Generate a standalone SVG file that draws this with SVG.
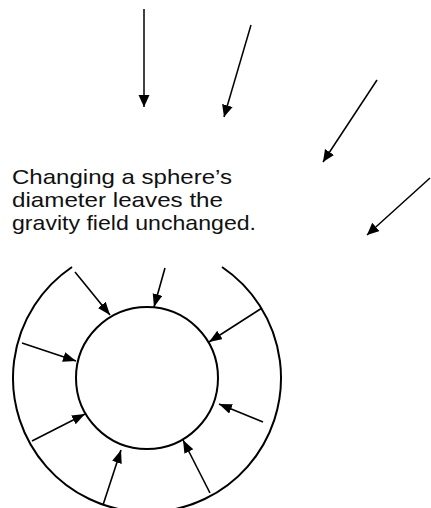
<svg xmlns="http://www.w3.org/2000/svg" width="431" height="508" viewBox="0 0 431 508">
  <style>
    .circ { fill: none; stroke: #000; stroke-width: 2; }
    .arr { fill: none; stroke: #000; stroke-width: 1.6; marker-end: url(#head); }
    .arr-big { fill: none; stroke: #000; stroke-width: 1.5; marker-end: url(#headBig); }
    .cap { font-family: "Liberation Sans", Arial, Helvetica, sans-serif; font-size: 21px; fill: #111; }
  </style>
  <defs>
    <marker id="head" markerUnits="userSpaceOnUse" markerWidth="14" markerHeight="12" refX="13" refY="5" orient="auto">
      <path d="M0,0 L13,5 L0,10 z" fill="#000"/>
    </marker>
    <marker id="headBig" markerUnits="userSpaceOnUse" markerWidth="14" markerHeight="12" refX="12" refY="5.5" orient="auto">
      <path d="M0,0 L12,5.5 L0,11 z" fill="#000"/>
    </marker>
  </defs>
  <rect width="431" height="508" fill="#fff"/>

  <g id="caption">
    <text class="cap" x="12" y="184" textLength="220" lengthAdjust="spacingAndGlyphs">Changing a sphere’s</text>
    <text class="cap" x="12" y="207" textLength="211" lengthAdjust="spacingAndGlyphs">diameter leaves the</text>
    <text class="cap" x="12" y="230" textLength="244" lengthAdjust="spacingAndGlyphs">gravity field unchanged.</text>
  </g>

  <g id="outer-shell">
    <path class="circ" d="M222,267 A134,134 0 1 1 72,267"/>
  </g>

  <g id="inner-sphere">
    <circle class="circ" cx="147" cy="378" r="71"/>
  </g>

  <g id="connectors">
    <line class="arr-big" x1="144" y1="9" x2="144" y2="107"/>
    <line class="arr-big" x1="251" y1="25" x2="224" y2="117"/>
    <line class="arr-big" x1="377" y1="80" x2="323" y2="162"/>
    <line class="arr-big" x1="430" y1="178" x2="367" y2="235"/>

    <line class="arr" x1="75" y1="272" x2="110" y2="315"/>
    <line class="arr" x1="165" y1="268" x2="154" y2="307"/>
    <line class="arr" x1="262" y1="308" x2="209" y2="342"/>
    <line class="arr" x1="22" y1="343" x2="76" y2="361"/>
    <line class="arr" x1="263" y1="422" x2="219" y2="404"/>
    <line class="arr" x1="32" y1="441" x2="85" y2="414"/>
    <line class="arr" x1="103" y1="505" x2="121" y2="450"/>
    <line class="arr" x1="210" y1="493" x2="183" y2="440"/>
  </g>
</svg>
